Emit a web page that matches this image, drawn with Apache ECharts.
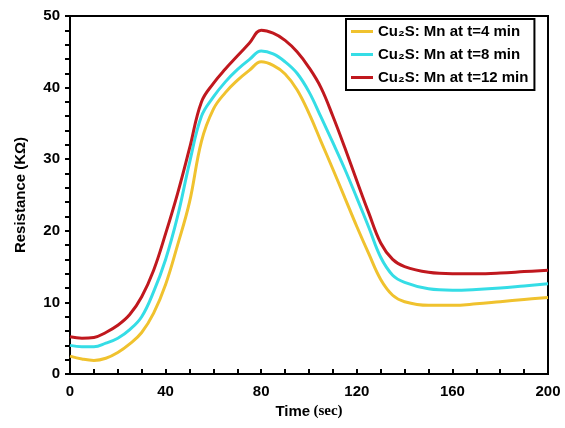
<!DOCTYPE html>
<html><head><meta charset="utf-8">
<script src="https://cdn.jsdelivr.net/npm/echarts@6/dist/echarts.min.js"></script>
<style>html,body{margin:0;padding:0;background:#fff}#c{width:565px;height:428px}</style>
</head><body><div id="c"></div>
<script>
const time = [0,5,10,15,20,25,30,35,40,45,50,55,60,65,70,75,80,85,90,95,100,105,110,115,120,125,130,135,140,150,160,170,180,190,200];
const mn4  = [2.5,2.1,1.9,2.2,3.0,4.2,5.8,8.5,12.5,18.0,24.0,32.5,37.0,39.3,41.0,42.4,43.6,43.1,41.9,39.7,36.4,32.5,28.6,24.6,20.6,16.8,13.2,11.0,10.1,9.6,9.6,9.8,10.1,10.4,10.7];
const mn8  = [4.0,3.8,3.8,4.3,5.0,6.2,8.0,11.5,16.0,22.0,29.5,36.0,38.7,40.8,42.5,43.9,45.1,44.7,43.6,42.0,39.4,35.9,32.3,28.6,24.6,20.5,16.3,13.8,12.8,11.9,11.7,11.8,12.0,12.3,12.6];
const mn12 = [5.2,5.0,5.1,5.8,6.8,8.3,10.8,14.5,19.6,25.2,31.5,38.0,40.6,42.6,44.4,46.2,48.0,47.6,46.6,45.0,42.8,40.0,36.0,31.6,27.0,22.5,18.3,16.0,15.0,14.2,14.0,14.0,14.1,14.3,14.5];
const seriesNames = ['Cu\u2082S: Mn at t=4 min','Cu\u2082S: Mn at t=8 min','Cu\u2082S: Mn at t=12 min'];
const colors = ['#f0c22e','#35dde6','#c0181e'];
const xTicks = [0,40,80,120,160,200];
const yTicks = [0,10,20,30,40,50];

const zip = a => time.map((t,i)=>[t,a[i]]);
const chart = echarts.init(document.getElementById('c'));
const font = 'Arial, "Liberation Sans", sans-serif';
chart.setOption({
  animation:false,
  grid:{left:70,right:17,top:16,bottom:54,show:true,borderColor:'#000',borderWidth:2,backgroundColor:'transparent'},
  legend:{
    data:seriesNames, orient:'vertical', left:346, top:19, itemWidth:22, itemHeight:3, itemGap:8, itemTextGap:9,
    textStyle:{fontFamily:font,fontWeight:'bold',fontSize:15,color:'#000'},
    icon:'rect', borderColor:'#000', borderWidth:2, padding:[5,6,5,5]
  },
  xAxis:{type:'value',min:xTicks[0],max:xTicks[xTicks.length-1],interval:40,
    axisLine:{lineStyle:{color:'#000',width:2}},
    axisTick:{inside:true,length:5,lineStyle:{color:'#000',width:2}},
    minorTick:{show:true,splitNumber:4,length:5,lineStyle:{color:'#000',width:2}},
    splitLine:{show:false},
    axisLabel:{fontFamily:font,fontWeight:'bold',fontSize:15,color:'#000',margin:10},
    name:'{a|Time} {b|(sec)}',nameLocation:'middle',nameGap:30,
    nameTextStyle:{rich:{a:{fontFamily:font,fontWeight:'bold',fontSize:15,color:'#000'},b:{fontFamily:'"Liberation Serif","DejaVu Serif",serif',fontWeight:'bold',fontSize:15,color:'#000'}}}
  },
  yAxis:{type:'value',min:yTicks[0],max:yTicks[yTicks.length-1],interval:10,
    axisLine:{lineStyle:{color:'#000',width:2}},
    axisTick:{length:5,lineStyle:{color:'#000',width:2}},
    minorTick:{show:true,splitNumber:5,length:5,lineStyle:{color:'#000',width:2}},
    splitLine:{show:false},
    axisLabel:{fontFamily:font,fontWeight:'bold',fontSize:15,color:'#000',margin:10},
    name:'Resistance (K\u03a9)',nameLocation:'middle',nameGap:42,
    nameTextStyle:{fontFamily:font,fontWeight:'bold',fontSize:15,color:'#000'}
  },
  series:[mn4,mn8,mn12].map((d,i)=>({
    name:seriesNames[i],type:'line',data:zip(d),smooth:0.4,showSymbol:false,
    lineStyle:{color:colors[i],width:3},itemStyle:{color:colors[i]}
  }))
});
</script></body></html>
